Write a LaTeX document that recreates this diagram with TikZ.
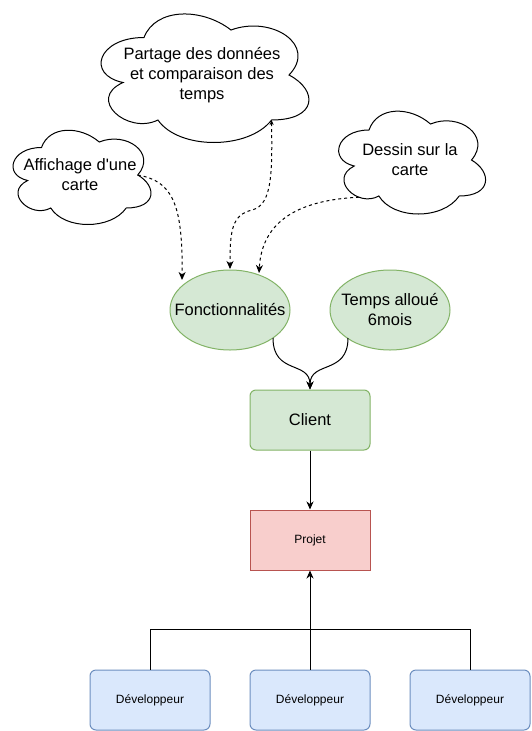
\documentclass[tikz,border=0pt]{standalone}
\usepackage{fontspec}
\setmainfont{Liberation Sans}[Ligatures=TeXOff]
\usetikzlibrary{arrows.meta,calc,shapes.geometric}
\definecolor{gfill}{HTML}{D5E8D4}
\definecolor{gline}{HTML}{82B366}
\definecolor{rfill}{HTML}{F8CECC}
\definecolor{rline}{HTML}{B85450}
\definecolor{bfill}{HTML}{DAE8FC}
\definecolor{bline}{HTML}{6C8EBF}
\tikzset{
  cloudline/.style={draw=black,fill=white,line width=1pt},
  cloudtext/.style={align=center,font=\fontsize{16.5}{20}\selectfont,inner sep=0pt},
  greenbox/.style={draw=gline,fill=gfill,rounded corners=6pt,minimum width=120pt,minimum height=60pt,line width=1pt,font=\fontsize{16.5}{20}\selectfont},
  greenell/.style={ellipse,draw=gline,fill=gfill,minimum width=120pt,minimum height=80pt,inner xsep=-30pt,inner ysep=0pt,align=center,line width=1pt,font=\fontsize{16.5}{20}\selectfont},
  redbox/.style={draw=rline,fill=rfill,minimum width=120pt,minimum height=60pt,line width=1pt,font=\fontsize{12}{14}\selectfont},
  devbox/.style={draw=bline,fill=bfill,rounded corners=6pt,minimum width=120pt,minimum height=60pt,line width=1pt,font=\fontsize{12}{14}\selectfont},
  arr/.style={line width=1pt,-{Stealth[length=8pt,width=7pt,inset=2.5pt]}},
  dasharr/.style={arr,dash pattern=on 3pt off 3pt},
  line/.style={line width=1pt},
}
\newcommand\dcloud[6]{%
  \begin{scope}[shift={(#2,#3)},x=#4pt,y=-#5pt]
    \draw[cloudline] (0.25,0.25) .. controls (0.05,0.25) and (0,0.5) .. (0.16,0.55)
      .. controls (0,0.66) and (0.18,0.9) .. (0.31,0.8)
      .. controls (0.4,1) and (0.7,1) .. (0.8,0.8)
      .. controls (1,0.8) and (1,0.6) .. (0.875,0.5)
      .. controls (1,0.3) and (0.8,0.1) .. (0.625,0.2)
      .. controls (0.5,0.05) and (0.3,0.05) .. (0.25,0.25) -- cycle;
    \node[cloudtext] (#1) at (0.5,0.5) {#6};
    \coordinate (#1-br) at (0.8,0.8);
    \coordinate (#1-r) at (0.875,0.5);
    \coordinate (#1-bl) at (0.19,0.81);
  \end{scope}}
\begin{document}
\begin{tikzpicture}[x=1pt,y=-1pt]
\useasboundingbox (0,0) rectangle (531,731);
% clouds
\dcloud{partage}{86}{0}{232}{150}{Partage des données\\et comparaison des\\temps}
\dcloud{affichage}{3}{120}{154}{110}{Affichage d'une\\carte}
\dcloud{dessin}{328}{100}{164}{120}{Dessin sur la\\carte}
% ellipses
\node[greenell] (fonc) at (230,310) {Fonctionnalités};
\node[greenell] (temps) at (390,310) {Temps alloué\\6mois};
% boxes
\node[greenbox] (client) at (310,420) {Client};
\node[redbox] (projet) at (310,540) {Projet};
\node[devbox] (dev1) at (150,700) {Développeur};
\node[devbox] (dev2) at (310,700) {Développeur};
\node[devbox] (dev3) at (470,700) {Développeur};
\coordinate (ftip1) at ($(fonc.center)+(-48,-30)$);
\coordinate (ftip2) at ($(fonc.center)+(0,-41)$);
\coordinate (ftip3) at ($(fonc.center)+(29,-37)$);
\coordinate (fout) at ($(fonc.center)+(43,28)$);
\coordinate (tout) at ($(temps.center)+(-42,28)$);
% dashed connectors
\draw[dasharr] (affichage-r) .. controls (172,181) and (183,203) .. (ftip1);
\draw[dasharr,{Stealth[length=5pt,width=4pt,inset=1.5pt]}-{Stealth[length=8pt,width=7pt,inset=2.5pt]}]
  (partage-br) .. controls (272,170) and (273,205) .. (252,210)
  .. controls (232,215) and (230,230) .. (ftip2);
\draw[dasharr] (dessin-bl) .. controls (300,200) and (262,220) .. (ftip3);
% solid connectors
\draw[arr] (fout) .. controls ($(fout)+(0,37)$) and ($(client.north)+(0,-29)$) .. (client.north);
\draw[arr] (tout) .. controls ($(tout)+(0,37)$) and ($(client.north)+(0,-29)$) .. (client.north);
\draw[arr] (client.south) -- (projet.north);
\draw[line] (dev1.north) -- ++(0,-40) -| (dev3.north);
\draw[arr] (dev2.north) -- (projet.south);
\end{tikzpicture}
\end{document}
